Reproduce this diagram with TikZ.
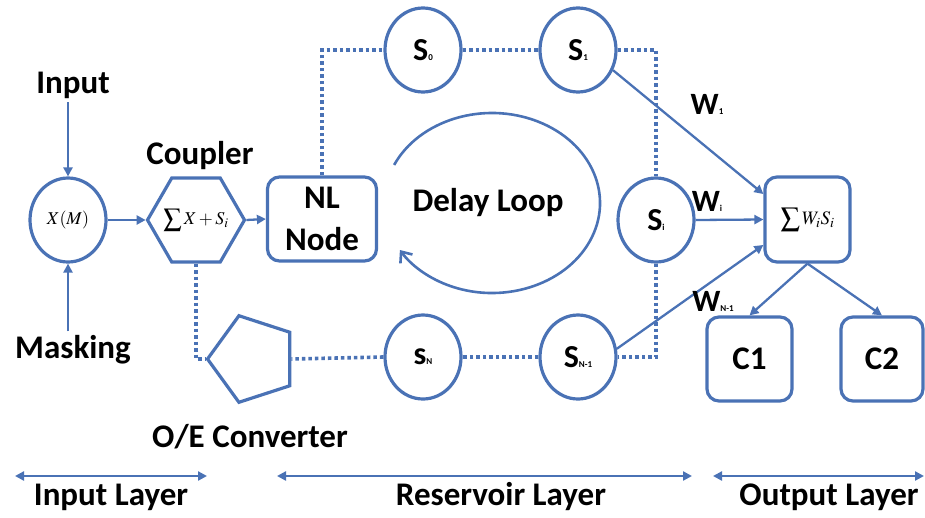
\documentclass[tikz,border=0pt]{standalone}
\usepackage{mathptmx}
\usepackage{fontspec}
\setmainfont{Carlito}
\usetikzlibrary{shapes.geometric,arrows.meta}
\definecolor{lineblue}{HTML}{4A72B5}

% state label: big letter with a tiny index sitting on the baseline
\newcommand{\stlab}[2]{{\fontsize{32}{32}\selectfont #1}{\fontsize{9}{9}\selectfont #2}}
\newcommand{\wlab}[2]{{\fontsize{31}{31}\selectfont #1}{\fontsize{9}{9}\selectfont #2}}

\begin{document}
\begin{tikzpicture}[x=1pt,y=-1pt,
  lbl/.style={font=\fontsize{33}{42}\selectfont\bfseries, inner sep=0, text=black},
  state/.style={ellipse, draw=lineblue, line width=3.2pt, minimum width=76pt,
    minimum height=84pt, inner sep=0, font=\bfseries},
  rbox/.style={draw=lineblue, line width=3.2pt, rounded corners=12pt, inner sep=0},
  link/.style={draw=lineblue, line width=2.3pt, -{Triangle[length=9pt,width=9pt]}},
  span/.style={draw=lineblue, line width=2.6pt,
    {Triangle[length=9pt,width=9pt]}-{Triangle[length=9pt,width=9pt]}},
  ring/.style={draw=lineblue, line width=3.6pt, dash pattern=on 3.5pt off 3pt},
  shapeline/.style={draw=lineblue, line width=3.2pt},
  mathlbl/.style={font=\fontsize{18}{18}\selectfont, inner sep=0},
]
\useasboundingbox (0,0) rectangle (925,517);

% ---- input layer ----
\node[lbl] (inlbl) at (73,85) {Input};
\node[lbl] (mask) at (73,350) {Masking};
\node[state, font=\fontsize{18}{18}\selectfont] (xm) at (68,220) {$X(M)$};
\node[regular polygon, regular polygon sides=6, minimum size=97pt, inner sep=0,
  shapeline] (cp) at (196,220) {};
\node[mathlbl] (cptext) at (196,220) {$\displaystyle\sum X + S_i$};
\node[lbl] (cplbl) at (200,156) {Coupler};

\draw[link] (xm.north |- inlbl.south) ++(0,4) -- (xm.north);
\draw[link] (xm.south |- mask.north) ++(0,-4) -- (xm.south);
\draw[link] (xm.east) -- (cp.west);

% ---- reservoir ----
\node[rbox, minimum width=109pt, minimum height=84pt, lbl, align=center,
  draw=lineblue] (nl) at (322,219) {NL\\Node};
\draw[link] (cp.east) -- (nl.west);

\node[state] (s0) at (423,50) {\stlab{S}{0}};
\node[state] (s1) at (578,50) {\stlab{S}{1}};
\node[state] (si) at (656,220) {\stlab{S}{i}};
\node[state] (sn1) at (578,357) {\stlab{S}{N-1}};
\node[state] (sn) at (423,357) {\stlab{s}{N}};
\node[regular polygon, regular polygon sides=5, shape border rotate=90,
  minimum size=91pt, inner sep=0, shapeline] (oe) at (253,359) {};
\node[lbl] (oelbl) at (250,437) {O/E Converter};

\draw[ring] (nl.north) -- (nl.north |- s0.west) -- (s0.west);
\draw[ring] (s0.east) -- (s1.west);
\draw[ring] (s1.east) -| (si.north);
\draw[ring] (si.south) |- (sn1.east);
\draw[ring] (sn1.west) -- (sn.east);
\draw[ring] (sn.west) -- (oe.east);
\draw[ring] (cp.south) |- (oe.west);

% circulation inside the loop
\coordinate (loopc) at (492,203);
\draw[draw=lineblue, line width=2.6pt, -{Straight Barb[length=9pt,width=15pt]}]
  (loopc) ++(205:108 and 90)
  arc[start angle=205, end angle=508.5, x radius=108, y radius=90];
\node[lbl] (dl) at (488,203) {Delay Loop};

% ---- output layer ----
\node[rbox, minimum width=85pt, minimum height=85pt] (sum) at (807.5,219.5) {};
\node[mathlbl, font=\fontsize{19}{19}\selectfont] (sumtext) at (807.5,219.5) {$\displaystyle\sum W_i S_i$};
\node[rbox, minimum width=85pt, minimum height=84pt, lbl] (c1) at (749.5,359) {C1};
\node[rbox, minimum width=82pt, minimum height=84pt, lbl] (c2) at (882,359) {C2};

\draw[link] (s1.-30) -- (sum.150);
\draw[link] (si.east) -- (sum.west);
\draw[link] (sn1.12) -- (sum.210);
\draw[link] (sum.south) -- (c1.north);
\draw[link] (sum.south) -- (c2.north);

\node[font=\bfseries, inner sep=0] (w1) at (707,104) {\wlab{W}{1}};
\node[font=\bfseries, inner sep=0] (wi) at (707,201) {\wlab{W}{i}};
\node[font=\bfseries, inner sep=0] (wn) at (713,301) {\wlab{W}{N-1}};

% ---- layer spans ----
\coordinate (a1) at (15,476);
\coordinate (a2) at (207,476);
\coordinate (b1) at (277,476);
\coordinate (b2) at (692,476);
\coordinate (c1l) at (713,476);
\coordinate (c2r) at (924,476);
\draw[span] (a1) -- (a2);
\draw[span] (b1) -- (b2);
\draw[span] (c1l) -- (c2r);
\node[lbl] (il) at (111,497) {Input Layer};
\node[lbl] (rl) at (501,497) {Reservoir Layer};
\node[lbl] (ol) at (829,497) {Output Layer};
\end{tikzpicture}
\end{document}
